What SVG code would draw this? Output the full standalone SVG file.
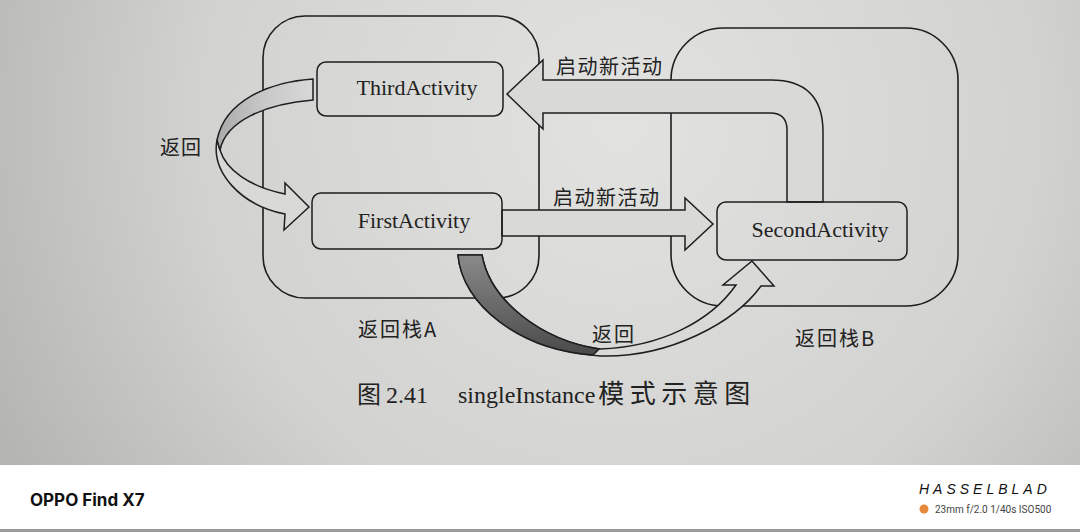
<svg xmlns="http://www.w3.org/2000/svg" width="1080" height="532" viewBox="0 0 1080 532">
<defs>
<radialGradient id="page" cx="620" cy="120" r="700" gradientUnits="userSpaceOnUse">
<stop offset="0" stop-color="#e2e2e0"/>
<stop offset="0.6" stop-color="#d2d2d0"/>
<stop offset="1" stop-color="#b4b4b2"/>
</radialGradient>
<linearGradient id="shadeL" x1="215" y1="0" x2="313" y2="0" gradientUnits="userSpaceOnUse">
<stop offset="0" stop-color="#a8a8a8"/>
<stop offset="0.5" stop-color="#c8c8c8"/>
<stop offset="1" stop-color="#d8d8d8"/>
</linearGradient>
<linearGradient id="shadeB" x1="0" y1="255" x2="0" y2="355" gradientUnits="userSpaceOnUse">
<stop offset="0" stop-color="#8a8a8a"/>
<stop offset="1" stop-color="#4a4a4a"/>
</linearGradient>
<style>
.stack{fill:none;stroke:#1e1e1e;stroke-width:1.6}
.box{fill:none;stroke:#1e1e1e;stroke-width:1.5}
.arrow{fill:#d9d9d8;stroke:#1e1e1e;stroke-width:1.5;stroke-linejoin:miter}
.lat{font-family:"Liberation Serif","Noto Sans CJK SC",serif;fill:#222}
.cjk{font-family:"Noto Sans CJK SC","Liberation Serif",sans-serif;fill:#222}
</style>
</defs>
<rect x="0" y="0" width="1080" height="465" fill="url(#page)"/>
<rect x="0" y="465" width="1080" height="67" fill="#ffffff"/>
<rect x="0" y="529" width="1080" height="3" fill="#9a9a9a"/>

<g id="stack-a">
<rect class="stack" x="263" y="16" width="276" height="282" rx="42"/>
<text class="cjk" x="358" y="337" font-size="20" letter-spacing="2">返回栈A</text>
</g>
<g id="stack-b">
<rect class="stack" x="671" y="28" width="287" height="278" rx="52"/>
<text class="cjk" x="795" y="346" font-size="20" letter-spacing="2">返回栈B</text>
</g>

<g id="connectors">
<path class="arrow" d="M502,210 L685,210 L685,198 L713,224 L685,250 L685,236 L502,236 Z"/>
<path class="arrow" d="M823,202 L823,132 Q823,80 771,80 L543,80 L543,60 L507,94 L543,129 L543,113 L770,113 Q787,113 787,130 L787,202 Z"/>
<path class="arrow" d="M217,140 C211,172 240,205 285,214 L284,230 L309,207 L285,183 L285,194 C250,187 226,170 220,150 Z"/>
<path class="arrow" style="fill:url(#shadeL)" d="M313,79 C270,82 225,100 217,140 L220,150 C226,121 265,104 313,100 Z"/>
<path class="arrow" d="M482,255 L458,255 C462,305 520,350 600,356 C670,358 735,322 761,286 L774,286 L752,261 L723,285 L736,285 C710,322 660,347 600,349 C540,340 490,300 482,255 Z"/>
<path class="arrow" style="fill:url(#shadeB)" d="M458,255 C462,305 520,350 593,355 L599,349 C540,340 490,300 482,255 Z"/>
<text class="cjk" x="556" y="74" font-size="20" letter-spacing="1.5">启动新活动</text>
<text class="cjk" x="553" y="205" font-size="20" letter-spacing="1.5">启动新活动</text>
<text class="cjk" x="160" y="155" font-size="20" letter-spacing="1">返回</text>
<text class="cjk" x="592" y="342" font-size="20" letter-spacing="2">返回</text>
</g>

<g id="node-third">
<rect class="box" x="317" y="62" width="186" height="54" rx="9"/>
<text class="lat" x="417" y="95" font-size="22" text-anchor="middle">ThirdActivity</text>
</g>
<g id="node-first">
<rect class="box" x="312" y="193" width="190" height="56" rx="9"/>
<text class="lat" x="414" y="228" font-size="22" text-anchor="middle">FirstActivity</text>
</g>
<g id="node-second">
<rect class="box" x="717" y="202" width="190" height="58" rx="9"/>
<text class="lat" x="820" y="237" font-size="22" text-anchor="middle">SecondActivity</text>
</g>

<g id="caption">
<text class="lat" x="357" y="403" font-size="24"><tspan font-family="Noto Sans CJK SC, sans-serif" font-size="24">图</tspan><tspan dx="5">2.41</tspan><tspan dx="30">singleInstance</tspan><tspan dx="3" font-family="Noto Sans CJK SC, sans-serif" font-size="26" letter-spacing="5.5">模式示意图</tspan></text>
</g>

<g id="watermark">
<text x="30" y="506" font-family="Inter, Roboto, sans-serif" font-weight="700" font-size="17" fill="#111">OPPO Find X7</text>
<text x="919" y="494" font-family="Liberation Sans, sans-serif" font-style="italic" font-size="14" letter-spacing="4" fill="#111">HASSELBLAD</text>
<circle cx="924" cy="509" r="4.5" fill="#e8893a"/>
<text x="935" y="513" font-family="Roboto, Inter, sans-serif" font-size="10" fill="#444">23mm f/2.0 1/40s ISO500</text>
</g>
</svg>
